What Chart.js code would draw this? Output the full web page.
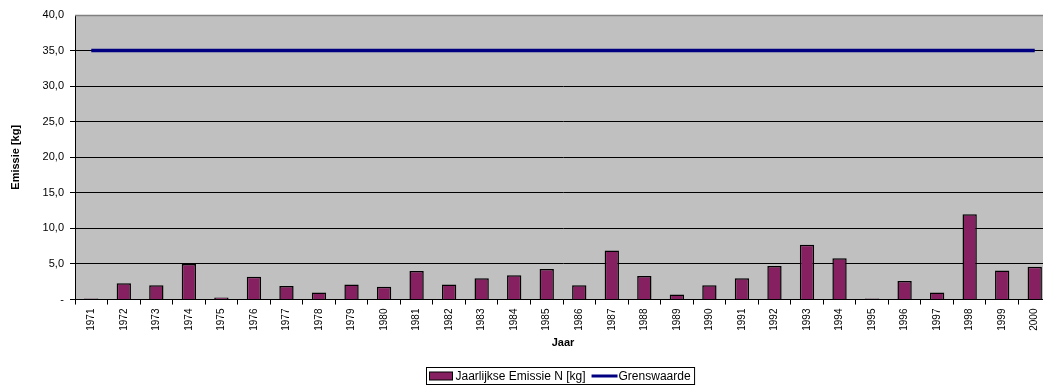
<!DOCTYPE html>
<html>
<head>
<meta charset="utf-8">
<script src="https://cdn.jsdelivr.net/npm/chart.js@4"></script>
<style>
  html, body { margin: 0; padding: 0; background: #fff; overflow: hidden; }
  #wrap { width: 1043px; height: 385px; overflow: hidden; }
</style>
</head>
<body>
<div id="wrap"><canvas id="myChart" width="1051" height="385"></canvas></div>
<script>
var jaren = ['1971','1972','1973','1974','1975','1976','1977','1978','1979','1980',
             '1981','1982','1983','1984','1985','1986','1987','1988','1989','1990',
             '1991','1992','1993','1994','1995','1996','1997','1998','1999','2000'];
var emissie = [0.15, 2.3, 2.0, 5.0, 0.3, 3.2, 1.9, 1.0, 2.1, 1.8,
               4.0, 2.1, 3.0, 3.4, 4.3, 2.0, 6.9, 3.3, 0.7, 2.0,
               3.0, 4.7, 7.7, 5.8, 0.15, 2.6, 1.0, 12.0, 4.1, 4.6];
var grenswaarde = jaren.map(function () { return 35; });
var yTicks = [0, 5, 10, 15, 20, 25, 30, 35, 40];

var barKleur = '#862061';
var lijnKleur = '#000080';

// grijze achtergrond en bovenrand van het plotgebied
var plotAchtergrond = {
    id: 'plotAchtergrond',
    beforeDraw: function (chart) {
        var a = chart.chartArea, c = chart.ctx;
        c.save();
        c.fillStyle = '#C0C0C0';
        c.fillRect(a.left, a.top, a.right - a.left, a.bottom - a.top);
        c.restore();
    },
    afterDatasetsDraw: function (chart) {
        var a = chart.chartArea, c = chart.ctx;
        c.save();
        c.strokeStyle = '#808080';
        c.lineWidth = 1.5;
        c.beginPath();
        c.moveTo(a.left, a.top + 0.5);
        c.lineTo(a.right, a.top + 0.5);
        c.stroke();
        c.restore();
    }
};

// legenda met kader onderaan
var legendaKader = {
    id: 'legendaKader',
    afterDraw: function (chart) {
        var c = chart.ctx;
        c.save();
        c.font = '12px "Liberation Sans", Arial, sans-serif';
        c.textBaseline = 'middle';
        var t1 = chart.data.datasets[0].label;
        var t2 = chart.data.datasets[1].label;
        var w1 = c.measureText(t1).width, w2 = c.measureText(t2).width;
        var x = 426.5, y = 367.5, h = 17;
        var breedte = 3 + 23 + 3 + w1 + 6 + 26 + 1 + w2 + 4;
        c.fillStyle = '#fff';
        c.fillRect(x, y, breedte, h);
        c.strokeStyle = '#000';
        c.lineWidth = 1;
        c.strokeRect(x, y, breedte, h);
        var cy = y + h / 2;
        var px = x + 3;
        c.fillStyle = barKleur;
        c.fillRect(px, cy - 4, 23, 8);
        c.strokeRect(px, cy - 4, 23, 8);
        px += 26;
        c.fillStyle = '#000';
        c.fillText(t1, px, cy + 0.5);
        px += w1 + 6;
        c.strokeStyle = lijnKleur;
        c.lineWidth = 3;
        c.beginPath();
        c.moveTo(px, cy);
        c.lineTo(px + 26, cy);
        c.stroke();
        px += 27;
        c.fillText(t2, px, cy + 0.5);
        c.restore();
    }
};

Chart.defaults.font.family = '"Liberation Sans", Arial, sans-serif';
Chart.defaults.color = '#000';

var ctx = document.getElementById('myChart').getContext('2d');
var myChart = new Chart(ctx, {
    type: 'bar',
    data: {
        labels: jaren,
        datasets: [{
            label: 'Jaarlijkse Emissie N [kg]',
            data: emissie,
            backgroundColor: barKleur,
            borderColor: '#000',
            borderWidth: 1.5,
            categoryPercentage: 1,
            barPercentage: 0.44,
            order: 1
        }, {
            type: 'line',
            label: 'Grenswaarde',
            data: grenswaarde,
            borderColor: lijnKleur,
            backgroundColor: lijnKleur,
            borderWidth: 3.5,
            pointRadius: 0,
            clip: false,
            order: 0
        }]
    },
    options: {
        responsive: false,
        animation: false,
        layout: { padding: { top: 15, right: 0, left: 0, bottom: 34 } },
        plugins: {
            legend: { display: false },
            tooltip: { enabled: false }
        },
        scales: {
            x: {
                offset: true,
                grid: {
                    offset: true,
                    drawOnChartArea: false,
                    color: '#000',
                    tickLength: 5
                },
                border: { color: '#000' },
                ticks: {
                    minRotation: 90,
                    maxRotation: 90,
                    autoSkip: false,
                    padding: 4,
                    font: { size: 10 }
                },
                title: {
                    display: true,
                    text: 'Jaar',
                    font: { size: 11, weight: 'bold' },
                    padding: { top: 2, bottom: 1 }
                }
            },
            y: {
                min: 0,
                max: 40,
                afterBuildTicks: function (scale) {
                    scale.ticks = yTicks.map(function (v) { return { value: v }; });
                },
                afterFit: function (scale) { scale.width = 75; },
                grid: {
                    color: function (c) {
                        if (c.tick && c.tick.value === 40) return 'rgba(0,0,0,0)';
                        return '#000';
                    },
                    tickLength: 5
                },
                border: { color: '#000' },
                ticks: {
                    padding: 6,
                    font: { size: 11 },
                    callback: function (v) {
                        return v === 0 ? '-' : v.toFixed(1).replace('.', ',');
                    }
                },
                title: {
                    display: true,
                    text: 'Emissie [kg]',
                    font: { size: 11, weight: 'bold' },
                    padding: { top: 9, bottom: 4 }
                }
            }
        }
    },
    plugins: [plotAchtergrond, legendaKader]
});
</script>
</body>
</html>
